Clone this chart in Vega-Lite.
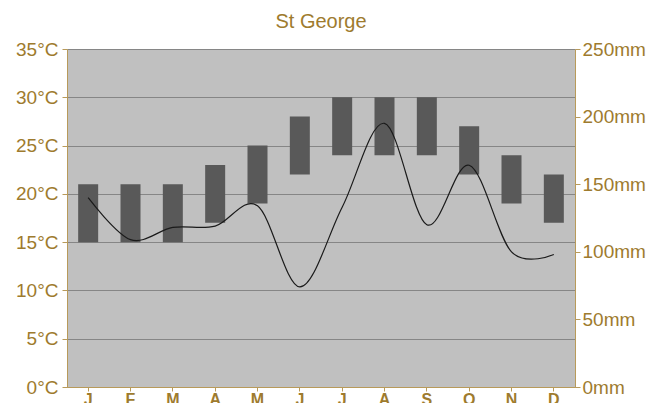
{
  "$schema": "https://vega.github.io/schema/vega-lite/v6.json",
  "autosize": {"type": "none"},
  "width": 508,
  "height": 338,
  "padding": {"left": 67, "top": 49, "right": 86, "bottom": 16},
  "background": "white",
  "title": {
    "text": "St George",
    "color": "#9E7B2E",
    "font": "Liberation Sans",
    "fontSize": 20,
    "fontWeight": "normal",
    "offset": 8
  },
  "config": {
    "view": {"fill": "#c0c0c0", "stroke": "#c8c4b8"},
    "axis": {
      "labelFont": "Liberation Sans",
      "labelColor": "#9E7B2E",
      "labelFontSize": 19,
      "domainColor": "#b89a5a",
      "tickColor": "#b89a5a",
      "titleColor": "#9E7B2E"
    }
  },
  "data": {
    "values": [
      {"month": "J", "order": 1, "tmin": 15, "tmax": 21, "precip": 140},
      {"month": "F", "order": 2, "tmin": 15, "tmax": 21, "precip": 109},
      {"month": "M", "order": 3, "tmin": 15, "tmax": 21, "precip": 118},
      {"month": "A", "order": 4, "tmin": 17, "tmax": 23, "precip": 119},
      {"month": "M ", "order": 5, "tmin": 19, "tmax": 25, "precip": 134},
      {"month": "J ", "order": 6, "tmin": 22, "tmax": 28, "precip": 74},
      {"month": "J  ", "order": 7, "tmin": 24, "tmax": 30, "precip": 133},
      {"month": "A ", "order": 8, "tmin": 24, "tmax": 30, "precip": 195},
      {"month": "S", "order": 9, "tmin": 24, "tmax": 30, "precip": 120},
      {"month": "O", "order": 10, "tmin": 22, "tmax": 27, "precip": 164},
      {"month": "N", "order": 11, "tmin": 19, "tmax": 24, "precip": 100},
      {"month": "D", "order": 12, "tmin": 17, "tmax": 22, "precip": 98}
    ]
  },
  "encoding": {
    "x": {
      "field": "month",
      "type": "nominal",
      "sort": {"field": "order"},
      "scale": {"paddingInner": 0, "paddingOuter": 0},
      "axis": {
        "title": null,
        "labelAngle": 0,
        "labelPadding": 0,
        "tickSize": 4,
        "labelFontWeight": "bold",
        "labelFontSize": 16
      }
    }
  },
  "layer": [
    {
      "mark": {"type": "bar", "color": "#595959", "width": 20},
      "encoding": {
        "y": {
          "field": "tmin",
          "type": "quantitative",
          "scale": {"domain": [0, 35], "nice": false},
          "axis": {
            "title": null,
            "values": [0, 5, 10, 15, 20, 25, 30, 35],
            "labelExpr": "datum.value + '°C'",
            "grid": true,
            "gridColor": "#868686",
            "gridWidth": 1,
            "tickSize": 5,
            "labelPadding": 4
          }
        },
        "y2": {"field": "tmax"}
      }
    },
    {
      "mark": {"type": "line", "color": "#1a1a1a", "strokeWidth": 1.2, "interpolate": "cardinal", "tension": 0},
      "encoding": {
        "y": {
          "field": "precip",
          "type": "quantitative",
          "scale": {"domain": [0, 250], "nice": false},
          "axis": {
            "title": null,
            "orient": "right",
            "values": [0, 50, 100, 150, 200, 250],
            "labelExpr": "datum.value + 'mm'",
            "grid": false,
            "tickSize": 5,
            "labelPadding": 2
          }
        }
      }
    }
  ],
  "resolve": {"scale": {"y": "independent"}}
}
